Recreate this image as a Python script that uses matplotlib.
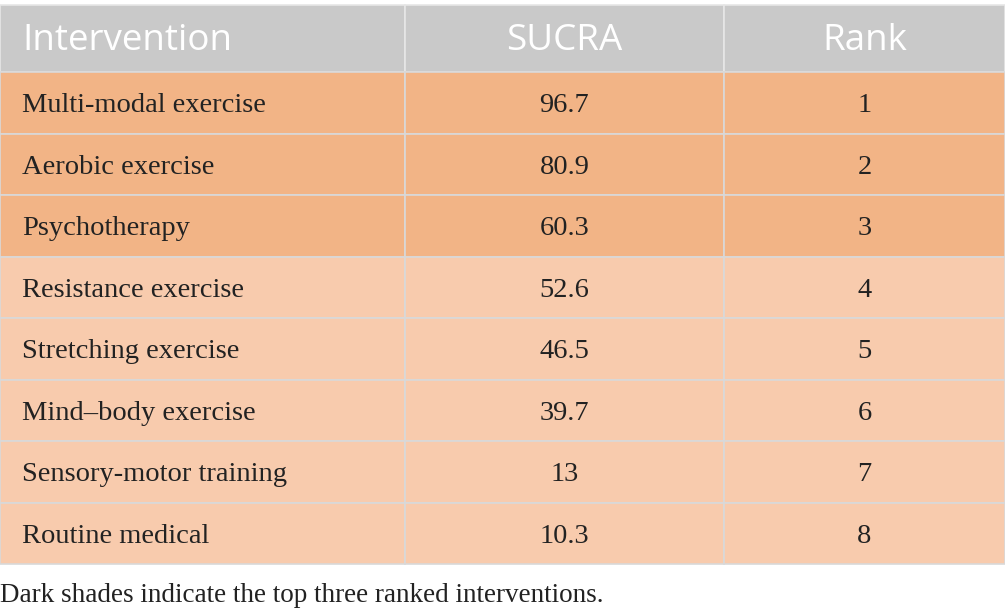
import matplotlib
matplotlib.use("Agg")
import matplotlib.pyplot as plt
from matplotlib.patches import Rectangle

headers = ["Intervention", "SUCRA", "Rank"]
interventions = ["Multi-modal exercise", "Aerobic exercise", "Psychotherapy",
                 "Resistance exercise", "Stretching exercise", "Mind\u2013body exercise",
                 "Sensory-motor training", "Routine medical"]
sucra = ["96.7", "80.9", "60.3", "52.6", "46.5", "39.7", "13", "10.3"]
ranks = [1, 2, 3, 4, 5, 6, 7, 8]
caption = "Dark shades indicate the top three ranked interventions."

W, H = 1005, 616
col_x = [0, 405, 724, 1005]
top, head_h, row_h = 5, 67, 61.5

fig = plt.figure(figsize=(W / 100, H / 100), dpi=100)
ax = fig.add_axes([0, 0, 1, 1])
ax.set_xlim(0, W)
ax.set_ylim(H, 0)
ax.axis("off")

# header
for c in range(3):
    ax.add_patch(Rectangle((col_x[c], top), col_x[c + 1] - col_x[c], head_h,
                           facecolor="#c9c9c9", edgecolor="#e6e6e6", lw=1.2))
ax.text(22, top + head_h / 2 + 2, headers[0], color="white", fontsize=26.5,
        family="Open Sans", va="center", ha="left")
for c in (1, 2):
    ax.text((col_x[c] + col_x[c + 1]) / 2, top + head_h / 2 + 2, headers[c], color="white",
            fontsize=26.5, family="Open Sans", va="center", ha="center")

# body
body = dict(fontsize=20.5, family="Liberation Serif", va="center", color="#222222")
for i, (name, s, r) in enumerate(zip(interventions, sucra, ranks)):
    y = top + head_h + i * row_h
    fc = "#f2b486" if r <= 3 else "#f8cbad"
    for c in range(3):
        ax.add_patch(Rectangle((col_x[c], y), col_x[c + 1] - col_x[c], row_h,
                               facecolor=fc, edgecolor="#d9d9d9", lw=1.2))
    yc = y + row_h / 2 + 3
    ax.text(22, yc, name, ha="left", **body)
    ax.text((col_x[1] + col_x[2]) / 2, yc, s, ha="center", **body)
    ax.text((col_x[2] + col_x[3]) / 2, yc, str(r), ha="center", **body)

ax.text(0, 596, caption, fontsize=19.5, family="Liberation Serif", va="center", ha="left", color="#222222")

fig.savefig("out.png", dpi=100)
